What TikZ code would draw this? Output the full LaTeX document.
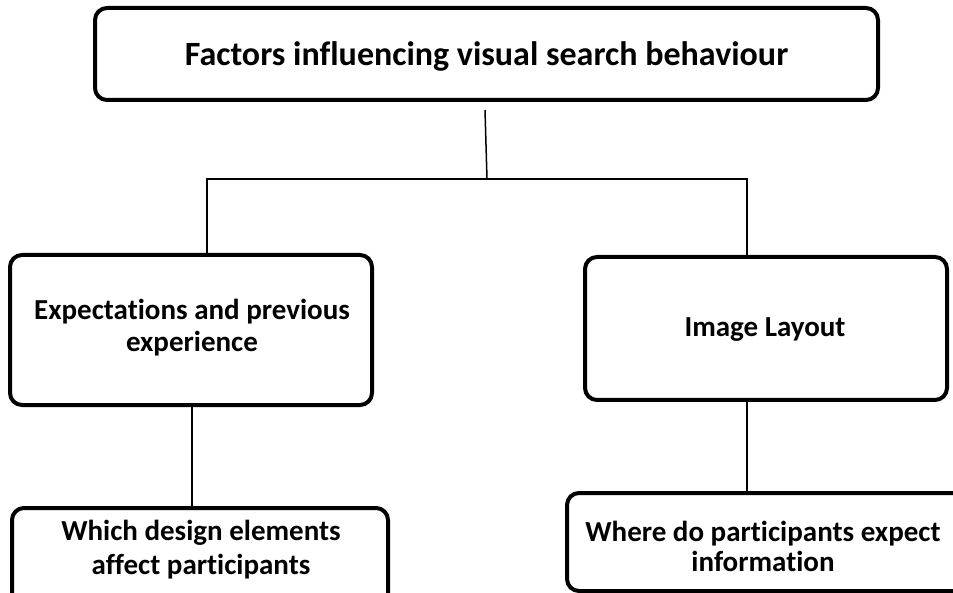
\documentclass[tikz,border=0pt]{standalone}
\usepackage{fontspec}
\setmainfont[Ligatures=NoCommon]{Carlito}
\begin{document}
\begin{tikzpicture}[x=1pt,y=-1pt,
  box/.style={draw=black,line width=4pt,rounded corners=12pt},
  conn/.style={draw=black,line width=1.5pt},
  lbl/.style={align=center,font=\bfseries,inner sep=0pt}]
\useasboundingbox (0,0) rectangle (953,593);
\clip (0,0) rectangle (953,593);
% boxes
\draw[box] (95,8) rectangle (878,100);
\node[lbl,font=\bfseries\fontsize{34}{40}\selectfont] (top) at (486.5,56) {Factors influencing visual search behaviour};
\draw[box] (10,255) rectangle (372,405);
\node[lbl,font=\bfseries\fontsize{29}{32}\selectfont] (left) at (192,328) {Expectations and previous\\experience};
\draw[box] (585,257) rectangle (947,400);
\node[lbl,font=\bfseries\fontsize{29}{32}\selectfont] (right) at (765,330) {Image Layout};
\draw[box] (12,508) rectangle (388,640);
\node[lbl,font=\bfseries\fontsize{29}{34}\selectfont] (bl) at (201,550) {Which design elements\\affect participants};
\draw[box] (567,493) rectangle (980,591);
\node[lbl,font=\bfseries\fontsize{29}{30}\selectfont] (br) at (763,546.5) {Where do participants expect\\information};
% connector anchors
\coordinate (t1) at (485,110);
\coordinate (t2) at (487,179);
\coordinate (hl) at (207,179);
\coordinate (hr) at (747,179);
\coordinate (l1) at (207,255);
\coordinate (r1) at (747,257);
\coordinate (l2) at (192,405);
\coordinate (l3) at (192,508);
\coordinate (r2) at (747,400);
\coordinate (r3) at (747,493);
\draw[conn] (t1) -- (t2);
\draw[conn] (l1) -- (hl) -- (hr) -- (r1);
\draw[conn] (l2) -- (l3);
\draw[conn] (r2) -- (r3);
\end{tikzpicture}
\end{document}
